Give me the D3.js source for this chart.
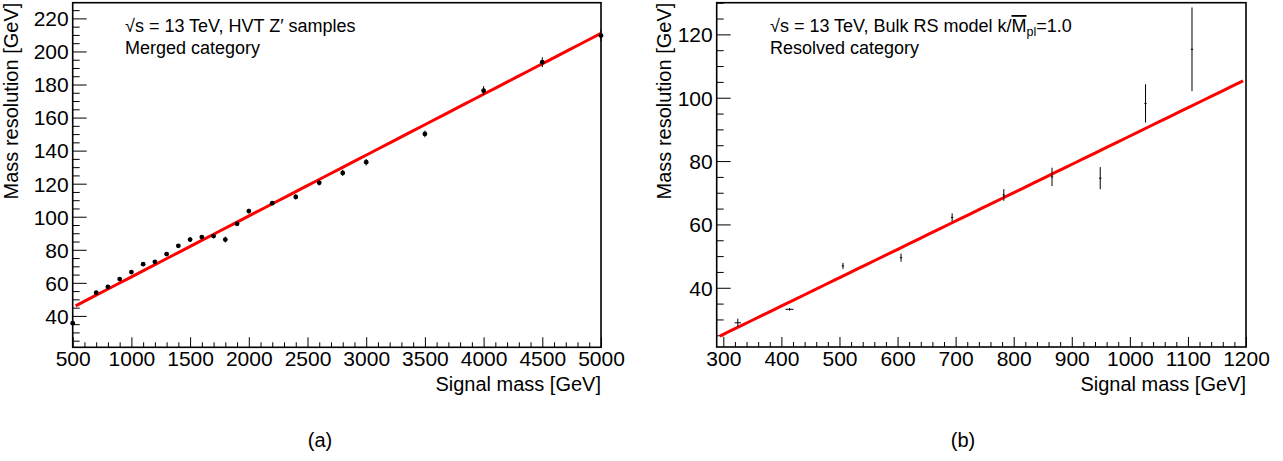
<!DOCTYPE html>
<html><head><meta charset="utf-8">
<script src="https://cdn.jsdelivr.net/npm/d3@7"></script>
<style>
body{margin:0;background:#fff}
svg text{font-family:"Liberation Sans",Arial,Helvetica,sans-serif;fill:#000}
</style>
</head><body>
<svg id="chart" width="1283" height="461"></svg>
<script>
// ---------- (a) Merged category, HVT Z' samples ----------
const mergedMass = [500,700,800,900,1000,1100,1200,1300,1400,1500,1600,1700,1800,1900,2000,2200,2400,2600,2800,3000,3500,4000,4500,5000];
const mergedRes  = [35.6,54.0,57.6,62.3,66.5,71.3,72.7,77.4,82.4,86.2,87.7,88.3,86.2,95.7,103.4,108.2,112.0,120.5,126.5,133.0,150.1,176.3,193.5,209.6];
const mergedErr  = [1.0,0.8,0.8,0.8,0.9,0.8,0.9,1.0,1.1,1.5,1.2,1.3,1.8,1.2,1.4,1.2,1.6,1.5,1.9,2.0,2.0,2.7,3.0,3.7];
const mergedFit  = [26.76, 0.03684];      // p0 + p1*m
const mergedFitRange = [525, 5000];
const mergedXTicks = [500,1000,1500,2000,2500,3000,3500,4000,4500,5000];
const mergedYTicks = [40,60,80,100,120,140,160,180,200,220];
const mergedXDomain = [500, 5000];
const mergedYDomain = [21, 229.5];

// ---------- (b) Resolved category, Bulk RS ----------
const resolvedMass = [325,414,506,606,694,783,866,949,1027,1107];
const resolvedRes  = [28.95,33.2,46.9,49.5,62.2,69.3,75.0,74.6,98.2,115.3];
const resolvedErr  = [1.3,0.4,0.95,1.3,1.3,1.85,2.9,3.5,6.05,13.2];
const resolvedXErr = [5.5,7,2,2,2,2,2,2,2,2];
const resolvedFit  = [-1.545, 0.08944];
const resolvedFitRange = [294, 1195];
const resolvedXTicks = [300,400,500,600,700,800,900,1000,1100,1200];
const resolvedYTicks = [40,60,80,100,120];
const resolvedXDomain = [288.6, 1200];
const resolvedYDomain = [21.3, 130];

const svg = d3.select("#chart");
svg.append("rect").attr("width",1283).attr("height",461).attr("fill","#fff");

function panel(o){
  const g = svg.append("g");
  const x = d3.scaleLinear().domain(o.xDomain).range([o.left, o.right]);
  const y = d3.scaleLinear().domain(o.yDomain).range([o.bottom, o.top]);

  const xMinor = d3.range(Math.ceil(o.xDomain[0]/o.xMinorStep)*o.xMinorStep, o.xDomain[1]+1e-6, o.xMinorStep)
      .filter(v=>!o.xTicks.includes(v));
  const yMinor = d3.range(Math.ceil(o.yDomain[0]/o.yMinorStep)*o.yMinorStep, o.yDomain[1]+1e-6, o.yMinorStep)
      .filter(v=>!o.yTicks.includes(v));

  const gxMin = g.append("g").attr("transform",`translate(0,${o.bottom})`)
     .call(d3.axisBottom(x).tickValues(xMinor).tickSize(-5).tickSizeOuter(0).tickFormat(""));
  const gx = g.append("g").attr("transform",`translate(0,${o.bottom})`)
     .call(d3.axisBottom(x).tickValues(o.xTicks).tickSize(-10).tickSizeOuter(0).tickPadding(4).tickFormat(d3.format("d")));
  const gyMin = g.append("g").attr("transform",`translate(${o.left},0)`)
     .call(d3.axisLeft(y).tickValues(yMinor).tickSize(-7).tickSizeOuter(0).tickFormat(""));
  const gy = g.append("g").attr("transform",`translate(${o.left},0)`)
     .call(d3.axisLeft(y).tickValues(o.yTicks).tickSize(-14).tickSizeOuter(0).tickPadding(4).tickFormat(d3.format("d")));
  [gx,gy,gxMin,gyMin].forEach(a=>{
    a.select(".domain").remove();
    a.selectAll("line").attr("stroke","#000").attr("stroke-width",1);
    a.selectAll("text").attr("font-size",21).attr("font-family","Liberation Sans, Arial, sans-serif").attr("fill","#000");
  });
  gy.selectAll("text").attr("dy","0.35em");

  g.append("rect").attr("x",o.left).attr("y",o.top).attr("width",o.right-o.left).attr("height",o.bottom-o.top)
    .attr("fill","none").attr("stroke","#000").attr("stroke-width",1.6);

  const fx = d3.range(o.fitRange[0], o.fitRange[1]+1e-6, (o.fitRange[1]-o.fitRange[0])/50);
  g.append("path").datum(fx)
    .attr("d", d3.line().x(m=>x(m)).y(m=>y(o.fit[0]+o.fit[1]*m)))
    .attr("fill","none").attr("stroke","#ff0000").attr("stroke-width",3);

  const pts = o.mass.map((m,i)=>({m, v:o.res[i], e:o.err[i], xe:o.xerr?o.xerr[i]:0}));
  g.selectAll(".ey").data(pts).join("line")
    .attr("x1",d=>x(d.m)).attr("x2",d=>x(d.m))
    .attr("y1",d=>y(d.v-d.e)).attr("y2",d=>y(d.v+d.e))
    .attr("stroke","#000").attr("stroke-width",1);
  if(o.xerr){
    g.selectAll(".ex").data(pts).join("line")
      .attr("x1",d=>x(d.m-d.xe)).attr("x2",d=>x(d.m+d.xe))
      .attr("y1",d=>y(d.v)).attr("y2",d=>y(d.v))
      .attr("stroke","#000").attr("stroke-width",1);
  }
  if(o.markers){
    g.selectAll(".mk").data(pts).join("circle")
      .attr("cx",d=>x(d.m)).attr("cy",d=>y(d.v)).attr("r",2.4).attr("fill","#000");
  }

  g.append("text").attr("x",o.right).attr("y",391).attr("text-anchor","end")
    .attr("font-size",20).text("Signal mass [GeV]");
  g.append("text").attr("transform",`translate(${o.yTitleX},${o.top})rotate(-90)`)
    .attr("text-anchor","end").attr("font-size",20).text("Mass resolution [GeV]");

  g.append("text").attr("x",o.labelX).attr("y",447).attr("text-anchor","middle")
    .attr("font-family","Liberation Serif, Times New Roman, serif").attr("font-size",20).text(o.label);
  return g;
}

const ga = panel({left:72.7,right:601,top:2.7,bottom:347.3,
  xDomain:mergedXDomain,yDomain:mergedYDomain,xTicks:mergedXTicks,yTicks:mergedYTicks,
  xMinorStep:100,yMinorStep:5,mass:mergedMass,res:mergedRes,err:mergedErr,
  fit:mergedFit,fitRange:mergedFitRange,markers:true,yTitleX:17.5,labelX:320,label:"(a)"});
ga.append("text").attr("x",125).attr("y",32).attr("font-size",18).text("√s = 13 TeV, HVT Z′ samples");
ga.append("text").attr("x",125).attr("y",54).attr("font-size",18).text("Merged category");

const gb = panel({left:716.7,right:1246,top:2.7,bottom:347,
  xDomain:resolvedXDomain,yDomain:resolvedYDomain,xTicks:resolvedXTicks,yTicks:resolvedYTicks,
  xMinorStep:20,yMinorStep:5,mass:resolvedMass,res:resolvedRes,err:resolvedErr,xerr:resolvedXErr,
  fit:resolvedFit,fitRange:resolvedFitRange,markers:false,yTitleX:670.5,labelX:963,label:"(b)"});
const t2 = gb.append("text").attr("x",770).attr("y",32).attr("font-size",18);
t2.append("tspan").text("√s = 13 TeV, Bulk RS model k/");
t2.append("tspan").style("text-decoration","overline").text("M");
t2.append("tspan").attr("font-size",12.5).attr("dy",4).text("pl");
t2.append("tspan").attr("dy",-4).text("=1.0");
gb.append("text").attr("x",770).attr("y",54).attr("font-size",18).text("Resolved category");
</script>
</body></html>
